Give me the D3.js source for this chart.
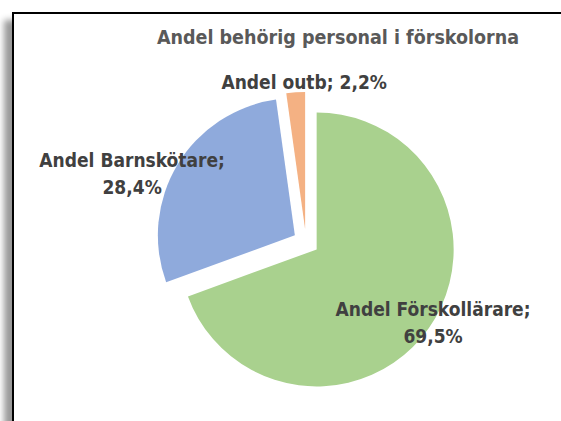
<!DOCTYPE html>
<html>
<head>
<meta charset="utf-8">
<script src="https://cdn.jsdelivr.net/npm/d3@7"></script>
<style>
body { margin: 0; background: #fff; }
svg text { font-family: "DejaVu Sans Condensed", "DejaVu Sans", sans-serif; }
</style>
</head>
<body>
<div id="vis"></div>
<script>
// data
const categories = ["Andel Förskollärare", "Andel Barnskötare", "Andel outb"]
const shares = [69.5, 28.4, 2.2]
const valueLabels = ["69,5%", "28,4%", "2,2%"]
const chartTitle = "Andel behörig personal i förskolorna"

const colors = ["#a9d18e", "#8faadc", "#f4b183"]

const W = 561, H = 421
const center = { x: 306, y: 242 }
const radius = 137
const explode = 13

// where each label sits: angle tweak (deg) from the slice middle, distance as factor of radius
const labelPlace = [
    { da: -2.7, k: 1.005, lines: 2 },
    { da: -10.3, k: 1.27, lines: 2 },
    { da: 3.6, k: 1.07, lines: 1 }
]

const dataset = categories.map((c, i) => ({ name: c, value: shares[i], label: valueLabels[i], i: i }))

let svg = d3.select("#vis")
    .append("svg")
    .attr("width", W)
    .attr("height", H)

// frame with shadow
let defs = svg.append("defs")
let shadow = defs.append("filter")
    .attr("id", "shadow")
    .attr("x", "-10%").attr("y", "-10%")
    .attr("width", "130%").attr("height", "130%")
shadow.append("feDropShadow")
    .attr("dx", -8)
    .attr("dy", 8)
    .attr("stdDeviation", 3)
    .attr("flood-color", "#000")
    .attr("flood-opacity", 0.4)

svg.append("rect")
    .attr("x", 13)
    .attr("y", 13)
    .attr("width", 620)
    .attr("height", 480)
    .attr("fill", "#fff")
    .attr("stroke", "#000")
    .attr("stroke-width", 2)
    .attr("filter", "url(#shadow)")

// title
svg.append("text")
    .attr("x", 338)
    .attr("y", 44)
    .attr("text-anchor", "middle")
    .attr("fill", "#595959")
    .style("font-size", "19.5px")
    .style("font-weight", "bold")
    .text(chartTitle)

let pie = d3.pie()
    .sort(null)
    .value(d => d.value)

let arcs = pie(dataset)

let arc = d3.arc()
    .innerRadius(0)
    .outerRadius(radius)

function offset(angle, dist) {
    return [Math.sin(angle) * dist, -Math.cos(angle) * dist]
}

let g = svg.append("g")
    .attr("transform", `translate(${center.x},${center.y})`)

// slices, each pushed out along its middle angle
g.selectAll("path.slice")
    .data(arcs)
    .join("path")
    .attr("class", "slice")
    .attr("transform", d => {
        let mid = (d.startAngle + d.endAngle) / 2
        let [dx, dy] = offset(mid, explode)
        return `translate(${dx},${dy})`
    })
    .attr("d", arc)
    .attr("fill", (d, i) => colors[i])

// data labels
let lineH = 27
g.selectAll("text.lbl")
    .data(arcs)
    .join("text")
    .attr("class", "lbl")
    .attr("text-anchor", "middle")
    .attr("fill", "#404040")
    .style("font-size", "19px")
    .style("font-weight", "bold")
    .each(function (d, i) {
        let p = labelPlace[i]
        let mid = (d.startAngle + d.endAngle) / 2
        let [ex, ey] = offset(mid, explode)
        let [lx, ly] = offset(mid + p.da * Math.PI / 180, radius * p.k)
        let x = ex + lx, y = ey + ly
        let t = d3.select(this)
        let lines = p.lines === 2
            ? [d.data.name + ";", d.data.label]
            : [d.data.name + "; " + d.data.label]
        let y0 = y - (lines.length - 1) * lineH / 2
        lines.forEach((s, j) => {
            t.append("tspan")
                .attr("x", x)
                .attr("y", y0 + j * lineH)
                .attr("dy", "0.35em")
                .text(s)
        })
    })
</script>
</body>
</html>
